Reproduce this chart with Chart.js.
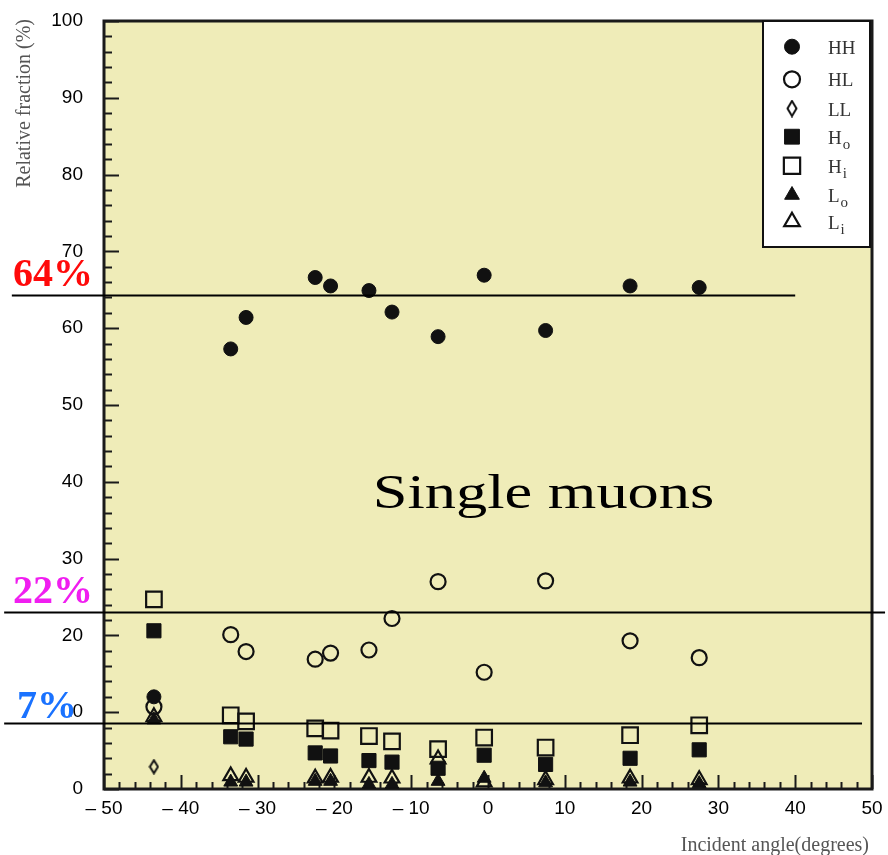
<!DOCTYPE html>
<html>
<head>
<meta charset="utf-8">
<script src="https://cdn.jsdelivr.net/npm/chart.js@4.4.1/dist/chart.umd.min.js"></script>
<style>
  html, body { margin: 0; padding: 0; background: #fff; }
  #wrap { width: 888px; height: 855px; }
</style>
</head>
<body>
<div id="wrap"><canvas id="chart" width="888" height="855"></canvas></div>
<script>
// --- data ---
const angles = [-43.5, -33.5, -31.5, -22.5, -20.5, -15.5, -12.5, -6.5, -0.5, 7.5, 18.5, 27.5];
const hhValues = [12.0, 57.3, 61.4, 66.6, 65.5, 64.9, 62.1, 58.9, 66.9, 59.7, 65.5, 65.3];
const hlValues = [10.7, 20.1, 17.9, 16.9, 17.7, 18.1, 22.2, 27.0, 15.2, 27.1, 19.3, 17.1];
const llAngles = [-43.5];
const llValues = [2.9];
const hoValues = [20.6, 6.8, 6.5, 4.7, 4.3, 3.7, 3.5, 2.7, 4.4, 3.2, 4.0, 5.1];
const hiValues = [24.7, 9.6, 8.8, 7.9, 7.6, 6.9, 6.2, 5.2, 6.7, 5.4, 7.0, 8.3];
const loValues = [9.0, 0.9, 0.9, 1.0, 1.0, 0.6, 0.6, 1.0, 1.4, 0.8, 0.9, 0.7];
const liValues = [9.4, 1.7, 1.5, 1.4, 1.5, 1.5, 1.4, 3.9, 0.9, 1.2, 1.4, 1.2];

const xTicks = [-50, -40, -30, -20, -10, 0, 10, 20, 30, 40, 50];
const yTicks = [0, 10, 20, 30, 40, 50, 60, 70, 80, 90, 100];

// horizontal reference lines (value, label, colour, x start/end in degrees)
const refValues = [64.3, 23.0, 8.55];
const refLabels = ['64%', '22%', '7%'];
const refColors = ['#ff0a0a', '#f01ef0', '#1a72ff'];
const refStart = [-62, -63, -63];
const refEnd = [40, 51.7, 48.7];

const legendNames = [['HH', ''], ['HL', ''], ['LL', ''], ['H', 'o'], ['H', 'i'], ['L', 'o'], ['L', 'i']];

const plotBg = 'rgb(239,236,184)';
const ink = '#111';

// narrow open diamond used for LL
function makeDiamond(w, h) {
    const c = document.createElement('canvas');
    c.width = w; c.height = h;
    const g = c.getContext('2d');
    g.strokeStyle = ink;
    g.lineWidth = 2;
    g.beginPath();
    g.moveTo(w / 2, 1.5);
    g.lineTo(w - 1.5, h / 2);
    g.lineTo(w / 2, h - 1.5);
    g.lineTo(1.5, h / 2);
    g.closePath();
    g.stroke();
    return c;
}
const diamondSmall = makeDiamond(11, 16);
const diamondLegend = makeDiamond(12, 18);

function pts(xs, ys) {
    return xs.map((x, i) => ({ x: x, y: ys[i] }));
}

function makeSet(label, data, style, filled, radius) {
    return {
        label: label,
        data: data,
        pointStyle: style,
        pointRadius: radius,
        pointHoverRadius: radius,
        pointBorderWidth: filled ? 1 : 2.2,
        pointBorderColor: ink,
        pointBackgroundColor: filled ? ink : 'rgba(0,0,0,0)',
        showLine: false
    };
}

const datasets = [
    makeSet('HH', pts(angles, hhValues), 'circle', true, 7),
    makeSet('HL', pts(angles, hlValues), 'circle', false, 7.5),
    makeSet('LL', pts(llAngles, llValues), diamondSmall, false, 7),
    makeSet('Ho', pts(angles, hoValues), 'rect', true, 10),
    makeSet('Hi', pts(angles, hiValues), 'rect', false, 11),
    makeSet('Lo', pts(angles, loValues), 'triangle', true, 8),
    makeSet('Li', pts(angles, liValues), 'triangle', false, 8.5)
];

function drawStretched(ctx, text, x, y, sx) {
    ctx.save();
    ctx.translate(x, y);
    ctx.scale(sx, 1);
    ctx.fillText(text, 0, 0);
    ctx.restore();
}

const decor = {
    id: 'decor',
    beforeDraw(chart) {
        const { ctx, chartArea: a } = chart;
        ctx.save();
        ctx.fillStyle = '#fff';
        ctx.fillRect(0, 0, chart.width, chart.height);
        ctx.fillStyle = plotBg;
        ctx.fillRect(a.left, a.top, a.right - a.left, a.bottom - a.top);
        ctx.restore();
    },
    beforeDatasetsDraw(chart) {
        const { ctx, chartArea: a, scales: { x, y } } = chart;
        ctx.save();
        ctx.strokeStyle = '#1a1a1a';
        ctx.lineWidth = 2;
        ctx.beginPath();
        for (let v = 0; v <= 100; v += 2) {
            const py = Math.round(y.getPixelForValue(v)) + 0.5;
            const len = v % 10 === 0 ? 15 : 8;
            ctx.moveTo(a.left, py);
            ctx.lineTo(a.left + len, py);
        }
        for (let v = -50; v <= 50; v += 2) {
            const px = Math.round(x.getPixelForValue(v)) + 0.5;
            const len = v % 10 === 0 ? 14 : 7;
            ctx.moveTo(px, a.bottom);
            ctx.lineTo(px, a.bottom - len);
        }
        ctx.stroke();
        ctx.lineWidth = 3;
        ctx.strokeRect(a.left, a.top, a.right - a.left, a.bottom - a.top);
        ctx.restore();
    },
    afterDatasetsDraw(chart) {
        const { ctx, scales: { x, y } } = chart;
        ctx.save();

        // big annotation text
        ctx.fillStyle = '#000';
        ctx.font = '48px "Liberation Serif", "Times New Roman", serif';
        ctx.textBaseline = 'alphabetic';
        ctx.textAlign = 'left';
        drawStretched(ctx, 'Single muons', x.getPixelForValue(-15), y.getPixelForValue(36.6), 1.3);

        // legend box
        const lx = 763, ly = 21, lw = 107, lh = 226;
        ctx.fillStyle = '#fff';
        ctx.fillRect(lx, ly, lw, lh);
        ctx.strokeStyle = '#111';
        ctx.lineWidth = 2;
        ctx.strokeRect(lx, ly, lw, lh);
        const rowsY = [46.7, 79.3, 108.5, 136.7, 165.7, 195, 221.7];
        const helpers = Chart.helpers;
        datasets.forEach((ds, i) => {
            const cy = ly + rowsY[i] - 21;
            ctx.fillStyle = ds.pointBackgroundColor === ink ? ink : '#fff';
            ctx.strokeStyle = ink;
            ctx.lineWidth = ds.pointBorderWidth;
            const style = ds.pointStyle === diamondSmall ? diamondLegend : ds.pointStyle;
            helpers.drawPoint(ctx, {
                pointStyle: style,
                radius: ds.pointRadius + 0.5,
                rotation: 0,
                borderWidth: ds.pointBorderWidth
            }, 792, cy);
            const [main, sub] = legendNames[i];
            ctx.fillStyle = '#333';
            ctx.font = '19px "Liberation Serif", "Times New Roman", serif';
            ctx.textAlign = 'left';
            ctx.textBaseline = 'alphabetic';
            ctx.fillText(main, 828, cy + 7);
            if (sub) {
                const w = ctx.measureText(main).width;
                ctx.font = '15px "Liberation Serif", "Times New Roman", serif';
                ctx.fillText(sub, 828 + w + 1, cy + 12);
            }
        });

        // reference lines and their labels
        refValues.forEach((v, i) => {
            const py = Math.round(y.getPixelForValue(v)) + 0.5;
            ctx.strokeStyle = '#000';
            ctx.lineWidth = 2;
            ctx.beginPath();
            ctx.moveTo(x.getPixelForValue(refStart[i]), py);
            ctx.lineTo(x.getPixelForValue(refEnd[i]), py);
            ctx.stroke();

            ctx.font = 'bold 40px "Liberation Serif", "Times New Roman", serif';
            ctx.textAlign = 'left';
            ctx.textBaseline = 'alphabetic';
            const tx = i === 2 ? 17 : 13;
            const ty = py - (i === 2 ? 6 : 10);
            if (i === 2) {
                const w = ctx.measureText(refLabels[i]).width;
                ctx.fillStyle = '#fff';
                ctx.fillRect(tx, ty - 27, w - 6, 27);
            }
            ctx.fillStyle = refColors[i];
            ctx.fillText(refLabels[i], tx, ty);
        });

        // axis titles
        ctx.fillStyle = '#555';
        ctx.font = '20px "Liberation Serif", "Times New Roman", serif';
        ctx.textAlign = 'right';
        ctx.textBaseline = 'middle';
        ctx.save();
        ctx.translate(25, 19);
        ctx.rotate(-Math.PI / 2);
        ctx.fillText('Relative fraction (%)', 0, 0);
        ctx.restore();
        ctx.textBaseline = 'alphabetic';
        ctx.fillText('Incident angle(degrees)', 869, 851);

        ctx.restore();
    }
};

const tickFont = { family: '"Liberation Sans", Arial, sans-serif', size: 19 };

new Chart(document.getElementById('chart'), {
    type: 'scatter',
    data: { datasets: datasets },
    options: {
        responsive: false,
        animation: false,
        layout: { padding: { left: 0, top: 21, right: 16, bottom: 0 } },
        plugins: {
            legend: { display: false },
            tooltip: { enabled: false }
        },
        scales: {
            x: {
                type: 'linear',
                min: -50,
                max: 50,
                grid: { display: false },
                border: { display: false },
                afterBuildTicks: s => { s.ticks = xTicks.map(v => ({ value: v })); },
                ticks: {
                    color: '#000',
                    font: tickFont,
                    padding: 0,
                    maxRotation: 0,
                    callback: v => v < 0 ? '\u2013 ' + Math.abs(v) : String(v)
                },
                afterFit: s => {
                    s.height = 66;
                    s.paddingLeft = 0;
                    s.paddingRight = 0;
                }
            },
            y: {
                type: 'linear',
                min: 0,
                max: 100,
                grid: { display: false },
                border: { display: false },
                afterBuildTicks: s => { s.ticks = yTicks.map(v => ({ value: v })); },
                ticks: { color: '#000', font: tickFont, padding: 13 },
                afterFit: s => {
                    s.width = 104;
                    s.paddingTop = 0;
                    s.paddingBottom = 0;
                }
            }
        }
    },
    plugins: [decor]
});
</script>
</body>
</html>
